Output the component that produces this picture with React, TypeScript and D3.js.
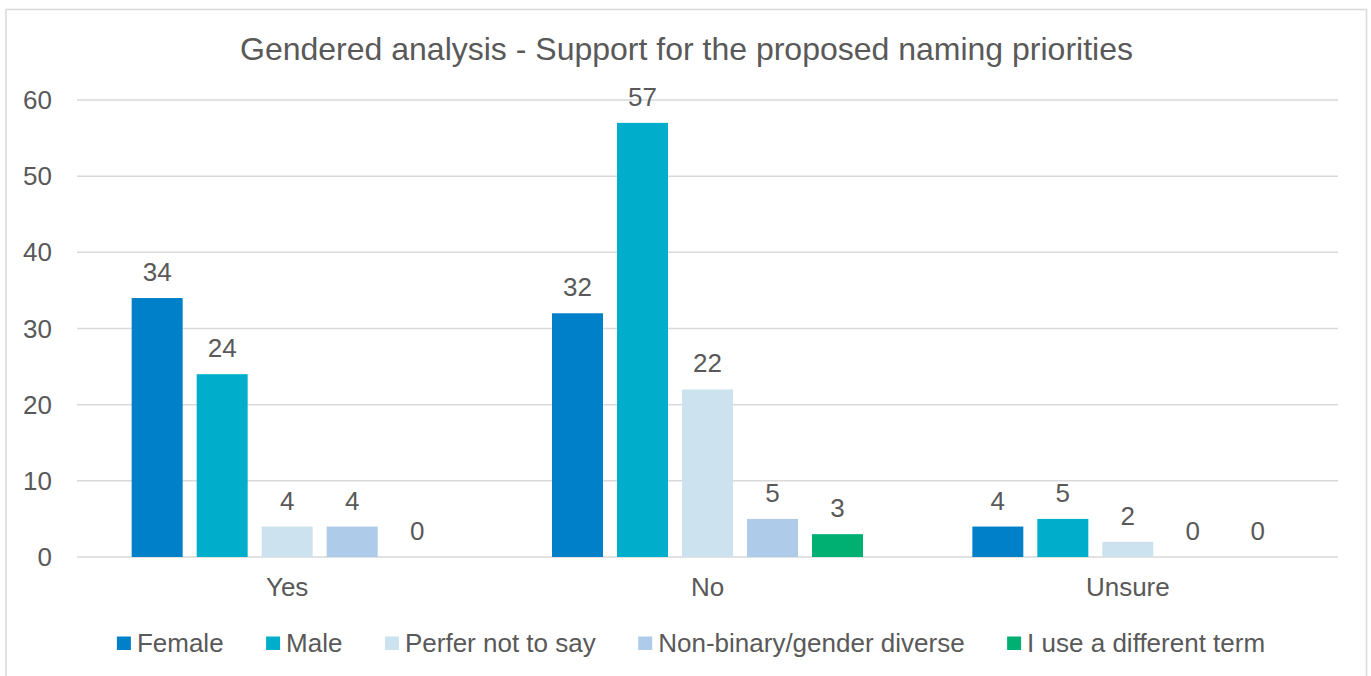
import React, { useEffect, useRef } from "react";
import * as d3 from "d3";

const categories = ["Yes", "No", "Unsure"];
const seriesNames = ["Female", "Male", "Perfer not to say", "Non-binary/gender diverse", "I use a different term"];
const female = [34, 32, 4];
const male = [24, 57, 5];
const perfer = [4, 22, 2];
const nonBinary = [4, 5, 0];
const differentTerm = [0, 3, 0];
const yTicks = [0, 10, 20, 30, 40, 50, 60];
const colors = ["#0080C8", "#00AECB", "#CCE3EF", "#AECBEA", "#00B073"];
const title = "Gendered analysis - Support for the proposed naming priorities";

const W = 1371;
const H = 676;
const FONT = "'Liberation Sans', Arial, sans-serif";
const TXT = "#595959";
const FS = 26;

export default function App() {
  const ref = useRef<SVGSVGElement>(null);
  useEffect(() => {
    const svg = d3.select(ref.current);
    svg.selectAll("*").remove();
    const series = [female, male, perfer, nonBinary, differentTerm];

    // border
    svg.append("rect").attr("x", 6).attr("y", 9.5).attr("width", 1360.5).attr("height", 700)
      .attr("fill", "#fff").attr("stroke", "#d9d9d9").attr("stroke-width", 1.5);

    const left = 77, right = 1338, top = 100, bottom = 557;
    const y = d3.scaleLinear().domain([0, 60]).range([bottom, top]);
    const x0 = d3.scaleBand<string>().domain(categories).range([left, right]).paddingInner(0).paddingOuter(0);
    const barW = 51, step = 65;
    const groupW = step * (seriesNames.length - 1) + barW;

    // title
    svg.append("text").attr("x", 686.5).attr("y", 60).attr("text-anchor", "middle")
      .attr("font-family", FONT).attr("font-size", 32).attr("fill", TXT).text(title);

    // grid
    const g = svg.append("g");
    g.selectAll("line.grid").data(yTicks).join("line")
      .attr("x1", left).attr("x2", right)
      .attr("y1", d => y(d)).attr("y2", d => y(d))
      .attr("stroke", "#d9d9d9").attr("stroke-width", 1.5);
    g.selectAll("text.tick").data(yTicks).join("text")
      .attr("x", 52).attr("y", d => y(d) + 9).attr("text-anchor", "end")
      .attr("font-family", FONT).attr("font-size", FS).attr("fill", TXT).text(d => d);

    // bars
    series.forEach((vals, si) => {
      categories.forEach((c, ci) => {
        const v = vals[ci];
        const cx = x0(c)! + x0.bandwidth() / 2;
        const bx = cx - groupW / 2 + si * step;
        if (v > 0) {
          svg.append("rect").attr("x", bx).attr("y", y(v)).attr("width", barW)
            .attr("height", y(0) - y(v)).attr("fill", colors[si]);
        }
        svg.append("text").attr("x", bx + barW / 2).attr("y", y(v) - 17).attr("text-anchor", "middle")
          .attr("font-family", FONT).attr("font-size", FS).attr("fill", TXT).text(v);
      });
    });

    // category labels
    categories.forEach(c => {
      svg.append("text").attr("x", x0(c)! + x0.bandwidth() / 2).attr("y", 596).attr("text-anchor", "middle")
        .attr("font-family", FONT).attr("font-size", FS).attr("fill", TXT).text(c);
    });

    // legend
    const lg = svg.append("g");
    let cur = 0;
    const sq = 14, gapText = 6, gapItem = 42.5;
    seriesNames.forEach((n, i) => {
      const it = lg.append("g").attr("transform", `translate(${cur},0)`);
      it.append("rect").attr("x", 0).attr("y", -15.5).attr("width", sq).attr("height", 13.5).attr("fill", colors[i]);
      const t = it.append("text").attr("x", sq + gapText).attr("y", 0).attr("font-family", FONT)
        .attr("font-size", FS).attr("fill", TXT).text(n);
      const tw = (t.node() as SVGTextElement).getComputedTextLength();
      cur += sq + gapText + tw + gapItem;
    });
    const total = cur - gapItem;
    lg.attr("transform", `translate(${691 - total / 2},652)`);
  }, []);
  return (
    <svg ref={ref} width={W} height={H} style={{ position: "absolute", left: 0, top: 0 }} />
  );
}
